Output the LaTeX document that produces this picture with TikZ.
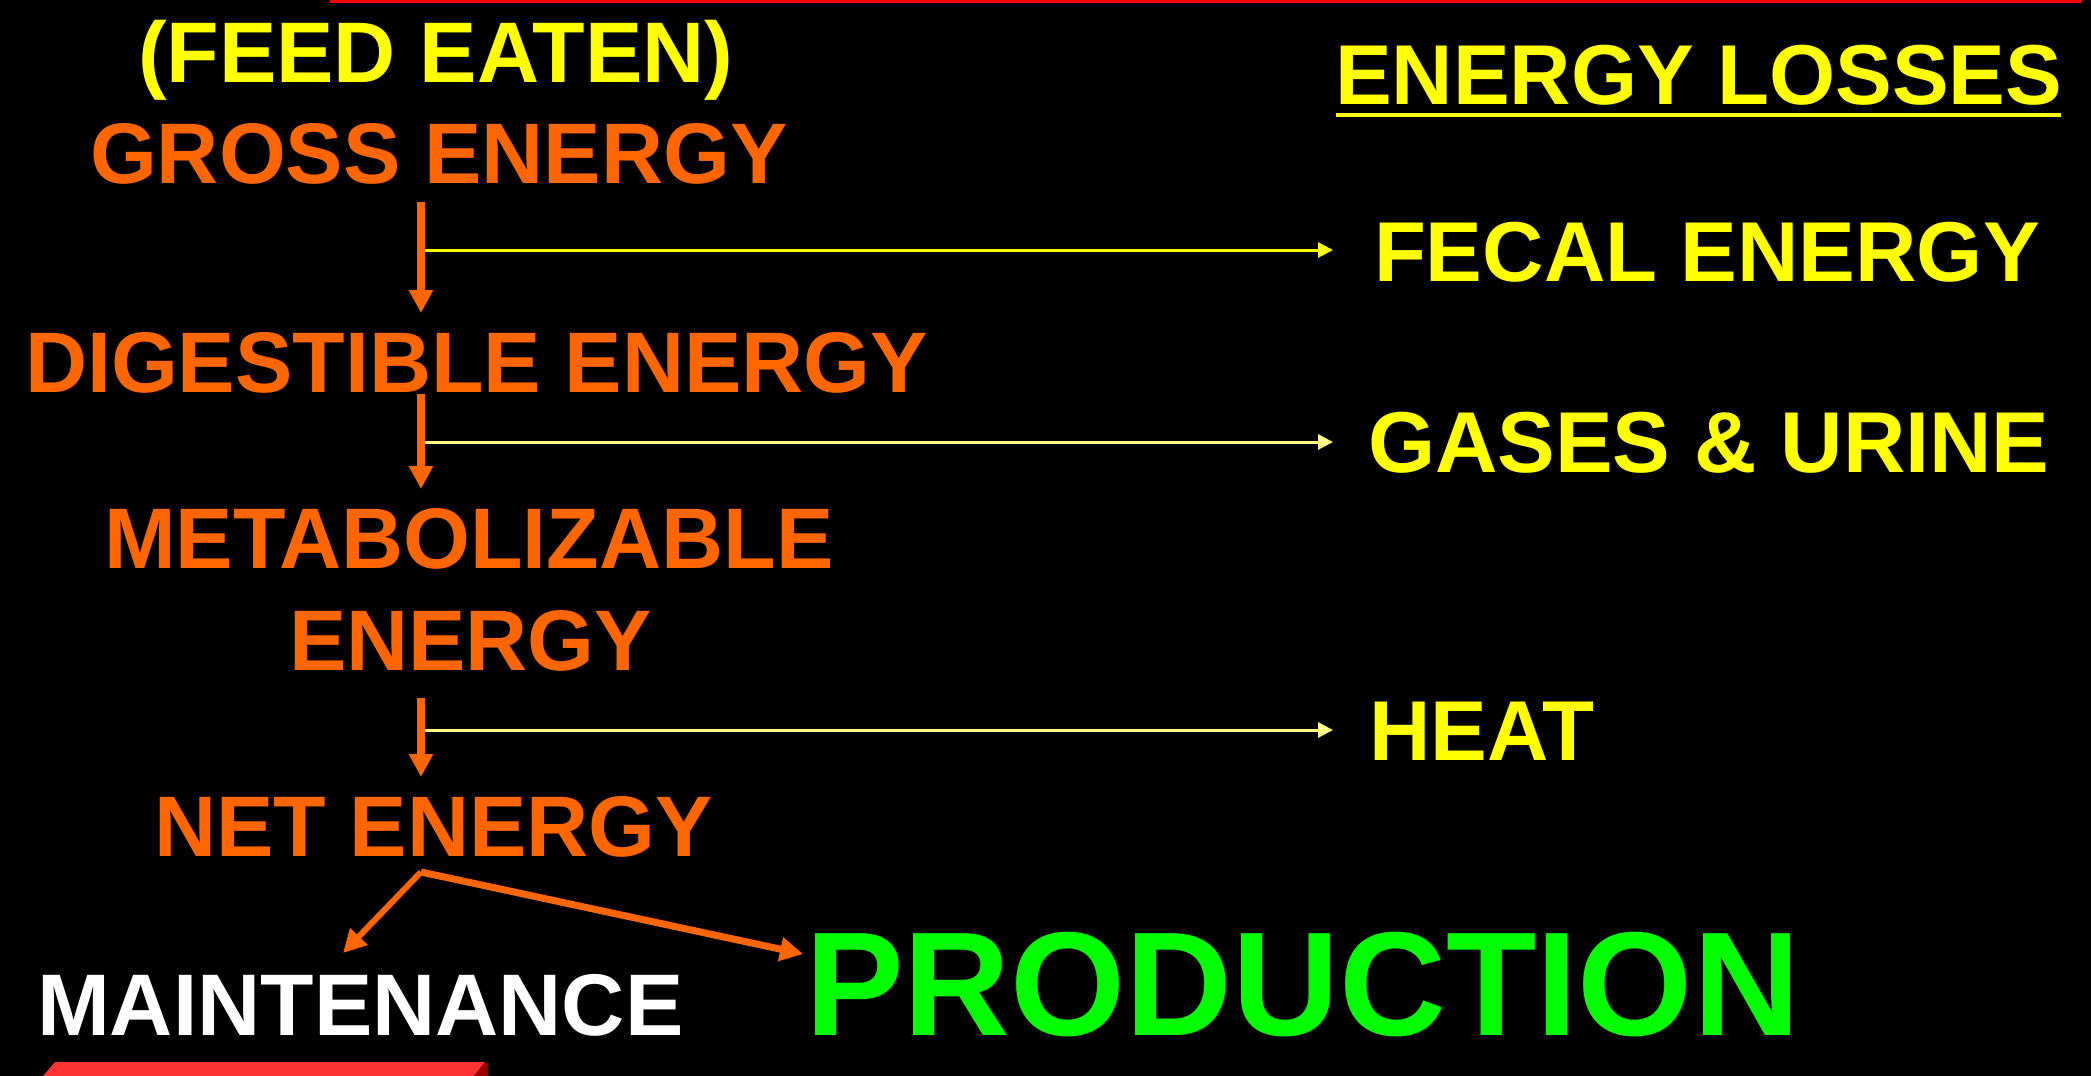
\documentclass[tikz,border=0pt]{standalone}
\usepackage{fontspec}
\setmainfont{Liberation Sans}
\usetikzlibrary{arrows.meta}
\definecolor{orng}{HTML}{FF6600}
\definecolor{ylw}{HTML}{FFFF00}
\definecolor{paleylw}{HTML}{FFFF88}
\definecolor{grn}{HTML}{00FF00}
\definecolor{topred}{HTML}{FF0000}
\definecolor{barred}{HTML}{FF3333}
\definecolor{bardark}{HTML}{990000}
\tikzset{
  lbl/.style={anchor=base west, inner sep=0pt, outer sep=0pt,
    font=\fontsize{86}{86}\selectfont\bfseries},
  rlbl/.style={lbl, font=\fontsize{85}{85}\selectfont\bfseries},
  bigl/.style={lbl, font=\fontsize{148}{148}\selectfont\bfseries},
  flow/.style={draw=orng, line width=8pt, -{Triangle[length=23pt,width=23pt]}},
  loss/.style={draw=ylw, line width=3pt, -{Triangle[length=15pt,width=15pt]}},
  paleloss/.style={loss, draw=paleylw, fill=paleylw},
}
\begin{document}
\begin{tikzpicture}[x=1pt,y=-1pt]
  \fill[black] (0,0) rectangle (2091,1076);
  \useasboundingbox (0,0) rectangle (2091,1076);
  % decorations
  \fill[topred] (330,0) rectangle (2082,3);
  \fill[barred] (55,1062) -- (485,1062) -- (474,1076) -- (43,1076) -- cycle;
  \fill[bardark] (485,1062) -- (488,1064) -- (488,1076) -- (474,1076) -- cycle;

  % left column
  \node[lbl, text=ylw] (feed) at (138,82) {(FEED EATEN)};
  \node[lbl, text=orng] (ge) at (90,183) {GROSS ENERGY};
  \node[lbl, text=orng] (de) at (25,392) {DIGESTIBLE ENERGY};
  \node[lbl, text=orng] (me1) at (104,568) {METABOLIZABLE};
  \node[lbl, text=orng] (me2) at (289,670) {ENERGY};
  \node[lbl, text=orng] (ne) at (154,856) {NET ENERGY};
  \node[lbl, text=white, font=\fontsize{87.5}{87.5}\selectfont\bfseries] (mt) at (37,1035) {MAINTENANCE};
  \node[bigl, text=grn] (pr) at (805,1035) {PRODUCTION};

  % right column
  \node[rlbl, text=ylw] (el) at (1335,104) {ENERGY LOSSES};
  \fill[ylw] (1336,113) rectangle (2061,117);
  \node[rlbl, text=ylw] (fe) at (1374,281) {FECAL ENERGY};
  \node[lbl, text=ylw, font=\fontsize{86.4}{86.4}\selectfont\bfseries] (gu) at (1368,472) {GASES \& URINE};
  \node[rlbl, text=ylw] (ht) at (1369,760) {HEAT};

  % connector end points
  \coordinate (ge-out) at (421,202);
  \coordinate (de-in) at (421,313);
  \coordinate (de-out) at (421,394);
  \coordinate (me-in) at (421,489);
  \coordinate (me-out) at (421,698);
  \coordinate (ne-in) at (421,777);
  \coordinate (ne-out) at (421,872);
  \coordinate (mt-in) at (343,953);
  \coordinate (pr-in) at (803,954);
  \coordinate (b1) at (421,250);
  \coordinate (b2) at (421,442);
  \coordinate (b3) at (421,730);
  \coordinate (fe-in) at (1333,250);
  \coordinate (gu-in) at (1333,442);
  \coordinate (ht-in) at (1333,730);

  % losses
  \draw[loss] (b1) -- (fe-in);
  \draw[paleloss] (b2) -- (gu-in);
  \draw[paleloss] (b3) -- (ht-in);

  % main flow
  \draw[flow] (ge-out) -- (de-in);
  \draw[flow] (de-out) -- (me-in);
  \draw[flow] (me-out) -- (ne-in);
  \draw[flow, line width=6pt] (ne-out) -- (mt-in);
  \draw[flow, line width=7pt] (ne-out) -- (pr-in);
\end{tikzpicture}
\end{document}
